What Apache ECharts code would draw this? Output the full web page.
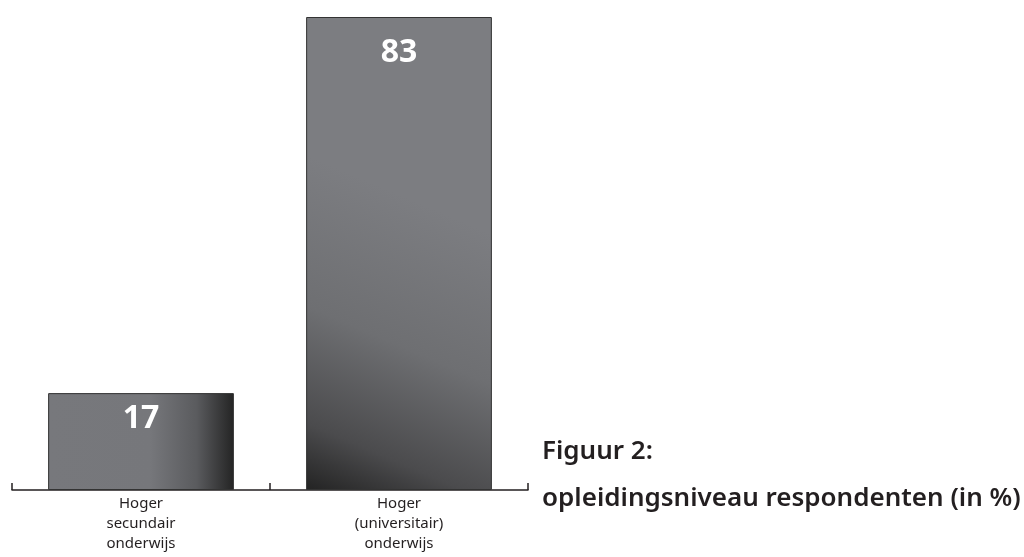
<!DOCTYPE html>
<html><head><meta charset="utf-8">
<script src="https://cdn.jsdelivr.net/npm/echarts@6/dist/echarts.min.js"></script>
<style>html,body{margin:0;padding:0;background:#fff}#c{width:1024px;height:557px}</style>
</head><body><div id="c"></div>
<script>
const categories = ["Hoger\nsecundair\nonderwijs", "Hoger\n(universitair)\nonderwijs"];
const values = [17, 83];
const titleLine1 = "Figuur 2:";
const titleLine2 = "opleidingsniveau respondenten (in %)";

const grad1 = new echarts.graphic.LinearGradient(0, 0, 1, 0, [
  {offset: 0, color: '#77787c'}, {offset: 0.55, color: '#76777b'},
  {offset: 0.8, color: '#5a5b5e'}, {offset: 1, color: '#242424'}]);
const grad2 = new echarts.graphic.LinearGradient(0.65, 0.4, 0, 1, [
  {offset: 0, color: '#7c7d81'}, {offset: 0.45, color: '#6e6f72'},
  {offset: 0.8, color: '#4b4b4d'}, {offset: 1, color: '#232323'}]);
const colors = [grad1, grad2];
const labelDist = [10, 20];

const chart = echarts.init(document.getElementById('c'));
chart.setOption({
  animation: false,
  title: [
    {text: titleLine1, left: 537, top: 434, textStyle: {fontFamily: 'Noto Sans', fontWeight: 600, fontSize: 26, color: '#231f20'}},
    {text: titleLine2, left: 537, top: 481, textStyle: {fontFamily: 'Noto Sans', fontWeight: 600, fontSize: 26, color: '#231f20'}}
  ],
  grid: {left: 12, right: 496, top: 17, bottom: 67},
  xAxis: {
    type: 'category', data: categories,
    axisLine: {show: true, lineStyle: {color: '#231f20', width: 1.5}},
    axisTick: {show: true, inside: true, interval: 0, alignWithLabel: false, length: 7, lineStyle: {color: '#231f20', width: 1.5}},
    axisLabel: {fontFamily: 'Noto Sans', fontSize: 15, color: '#231f20', lineHeight: 20, margin: 4}
  },
  yAxis: {type: 'value', min: 0, max: 83, show: false, splitLine: {show: false}},
  series: [{
    type: 'bar', barWidth: '72%', z: 1,
    data: values.map((v, i) => ({value: v, itemStyle: {color: colors[i]}, label: {distance: labelDist[i]}})),
    itemStyle: {borderColor: '#333', borderWidth: 1},
    label: {show: true, position: 'insideTop', color: '#fff', fontFamily: 'Noto Sans', fontWeight: 'bold', fontSize: 32}
  }]
});
</script></body></html>
